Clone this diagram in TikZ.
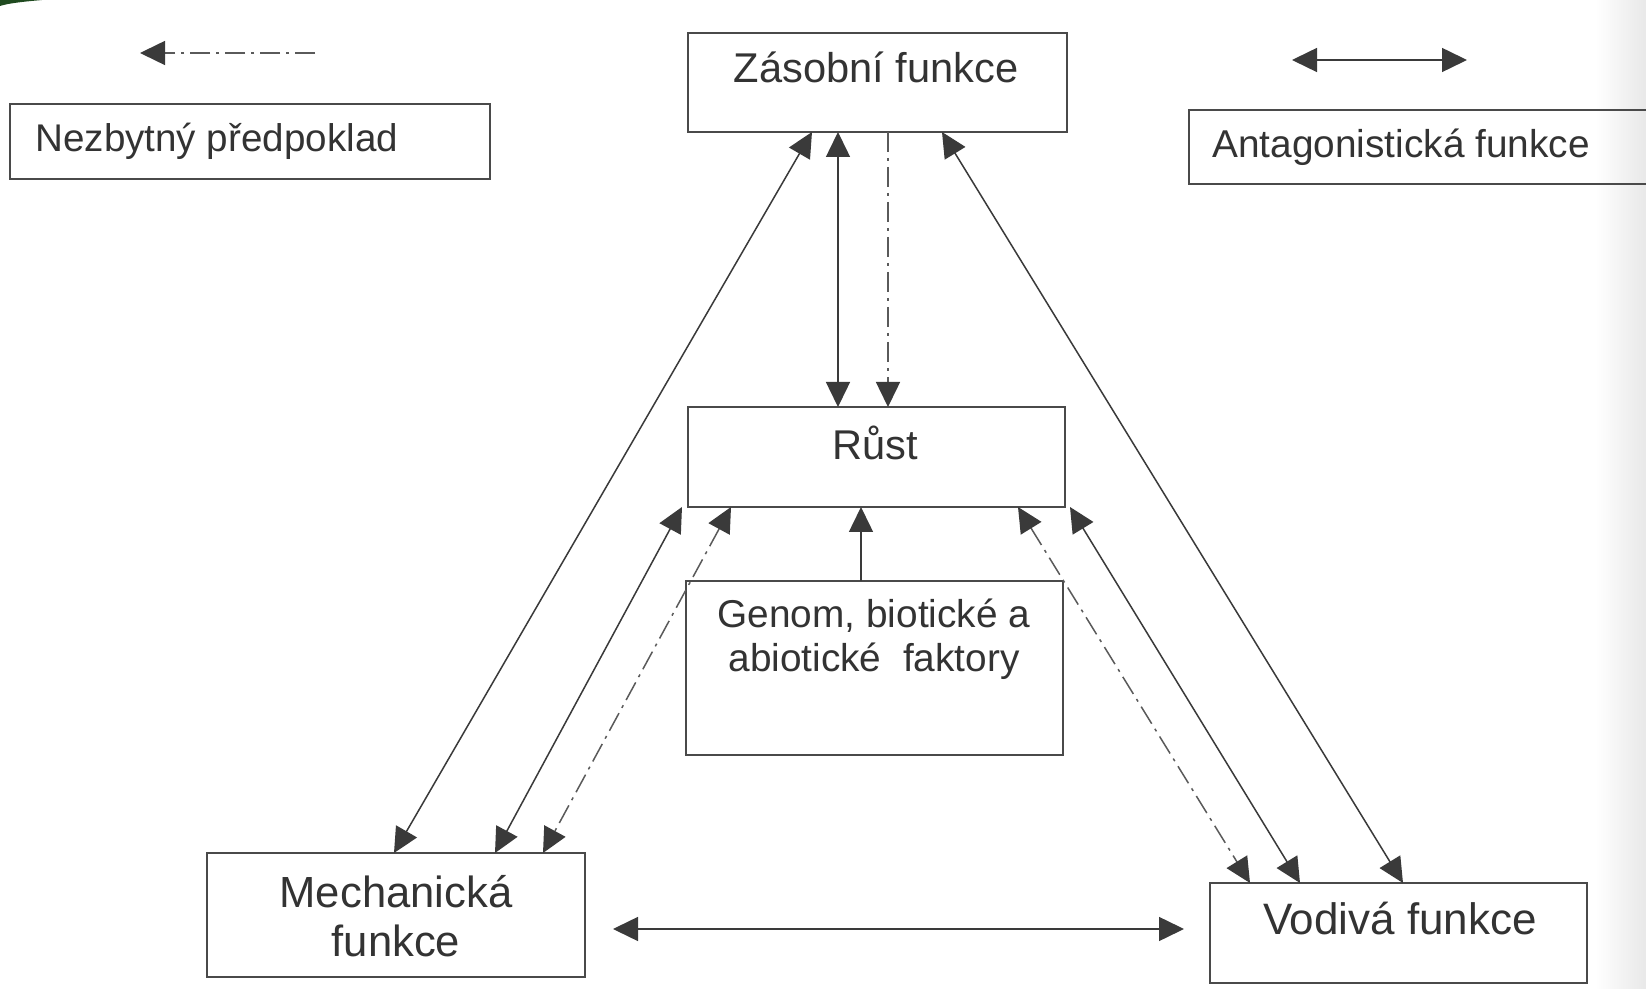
\documentclass[tikz,border=0pt]{standalone}
\usepackage{fontspec}
\setmainfont{Liberation Sans}
\usetikzlibrary{arrows.meta}
\definecolor{ink}{HTML}{3A3A3A}
\definecolor{boxline}{HTML}{4A4A4A}
\definecolor{dashink}{HTML}{5A5A5A}
\definecolor{txt}{HTML}{333333}
\definecolor{corner}{HTML}{1F4A1F}
\begin{document}
\begin{tikzpicture}[x=0.5pt,y=-0.5pt,
  box/.style={draw=boxline, line width=0.8pt, rectangle, inner sep=0pt,
    outer sep=0pt, anchor=north west},
  lbl/.style={text=txt, inner sep=0pt, anchor=base},
  link/.style={draw=ink, line width=0.75pt},
  dashdot/.style={draw=dashink, line width=0.75pt,
    dash pattern=on 10pt off 3pt on 1.5pt off 3pt},
  both/.style={{Triangle[length=12.5pt,width=12pt,color=ink]}-{Triangle[length=12.5pt,width=12pt,color=ink]}},
  fwd/.style={-{Triangle[length=12.5pt,width=12pt,color=ink]}}
]
\useasboundingbox (0,0) rectangle (1646,989);
\clip (0,0) rectangle (1646,989);
\fill[white] (0,0) rectangle (1646,989);
% greyish paper edge on the right
\shade[left color=white, right color=black!9] (1595,0) rectangle (1646,989);
% green corner sliver
\fill[corner] (0,0) -- (42,0) .. controls (26,1.5) and (9,3) .. (0,6) -- cycle;

% boxes
\node[box, minimum width=240pt, minimum height=37.5pt] (need) at (10,104) {};
\node[box, minimum width=240pt, minimum height=37pt] (anta) at (1189,110) {};
\node[box, minimum width=189.5pt, minimum height=49.5pt] (zas) at (688,33) {};
\node[box, minimum width=188.5pt, minimum height=50pt] (rust) at (688,407) {};
\node[box, minimum width=188.5pt, minimum height=87pt] (gen) at (686,581) {};
\node[box, minimum width=189pt, minimum height=62pt] (mech) at (207,853) {};
\node[box, minimum width=188.5pt, minimum height=50pt] (vod) at (1210,883) {};

% texts
\node[lbl, anchor=base west, font=\fontsize{19.3}{23}\selectfont] at (35,152) {Nezbytný předpoklad};
\node[lbl, anchor=base west, font=\fontsize{19.4}{23}\selectfont] at (1212,158) {Antagonistická funkce};
\node[lbl, font=\fontsize{20.8}{25}\selectfont] at (876,83) {Zásobní funkce};
\node[lbl, font=\fontsize{20.8}{25}\selectfont] at (875,460) {Růst};
\node[lbl, font=\fontsize{19.4}{23}\selectfont] at (874,628) {Genom, biotické a};
\node[lbl, font=\fontsize{19.4}{23}\selectfont] at (874,672) {abiotické\ \ faktory};
\node[lbl, font=\fontsize{21.8}{25}\selectfont] at (396,907) {Mechanická};
\node[lbl, font=\fontsize{21.8}{25}\selectfont] at (396,957) {funkce};
\node[lbl, font=\fontsize{22}{26}\selectfont] at (1400,935) {Vodivá funkce};

% legend symbols
\coordinate (nA) at (315,53);
\coordinate (nB) at (140,53);
\draw[dashdot, fwd] (nA) -- (nB);
\coordinate (aA) at (1292,60);
\coordinate (aB) at (1467,60);
\draw[link, both] (aA) -- (aB);

% connectors between the functions
\draw[link, both] (zas.south -| 838,0) -- (rust.north -| 838,0);
\draw[dashdot, fwd] (zas.south -| 888,0) -- (rust.north -| 888,0);
\draw[link, both] (zas.south -| 812,0) -- (mech.north -| 394,0);
\draw[link, both] (zas.south -| 942,0) -- (vod.north -| 1403,0);
\draw[link, both] (rust.south -| 682,0) -- (mech.north -| 495,0);
\draw[dashdot, both] (rust.south -| 731,0) -- (mech.north -| 543,0);
\draw[link, both] (rust.south -| 1070,0) -- (vod.north -| 1300,0);
\draw[dashdot, both] (rust.south -| 1018,0) -- (vod.north -| 1250,0);
\draw[link, fwd] (gen.north -| 861,0) -- (rust.south -| 861,0);
\draw[link, both, shorten <=14pt, shorten >=13pt] (mech.east |- 0,929) -- (vod.west |- 0,929);
\end{tikzpicture}
\end{document}
